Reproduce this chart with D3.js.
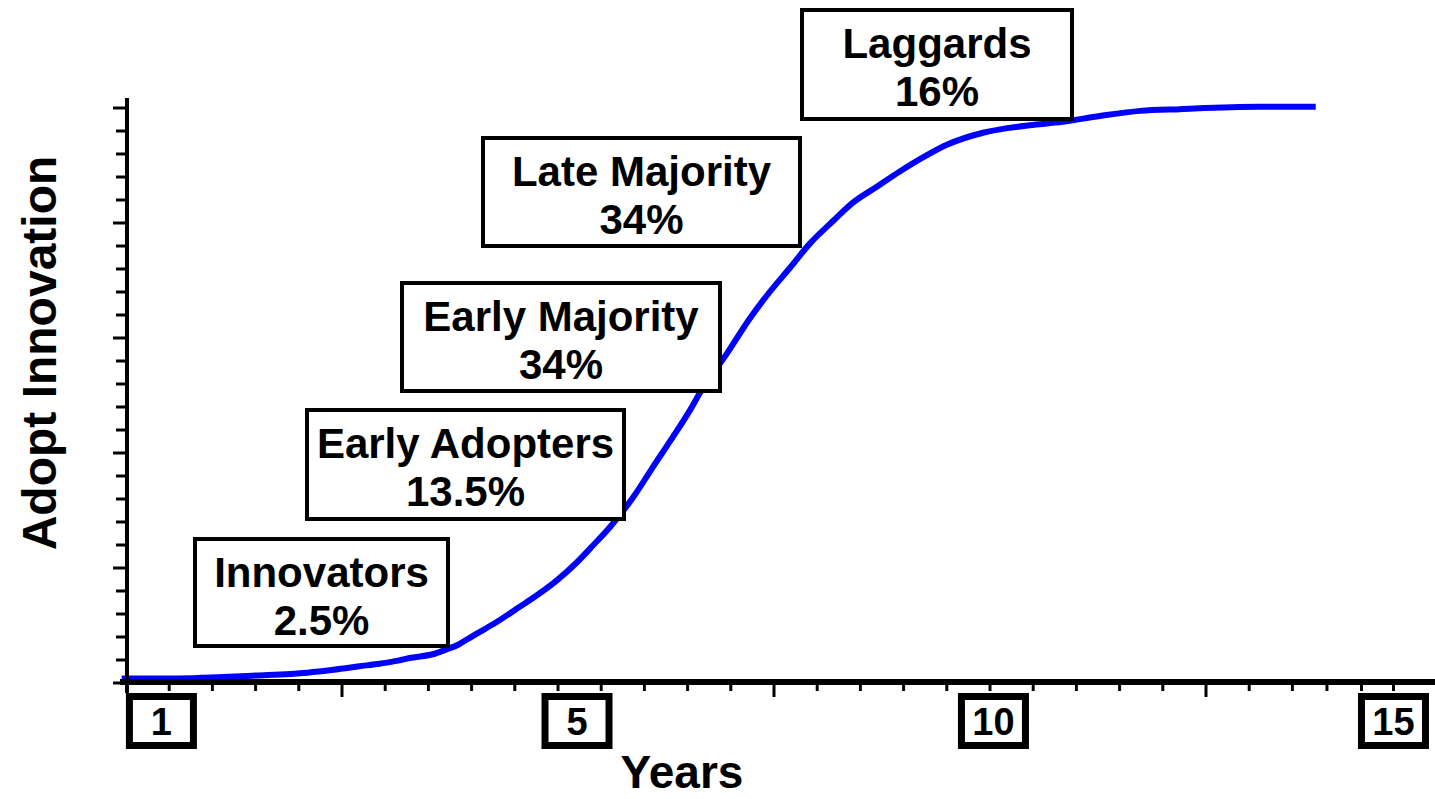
<!DOCTYPE html>
<html>
<head>
<meta charset="utf-8">
<script src="https://cdn.jsdelivr.net/npm/d3@7/dist/d3.min.js"></script>
<style>
  html, body { margin: 0; padding: 0; background: #fff; }
  svg { display: block; font-family: "Liberation Sans", Arial, sans-serif; font-weight: bold; }
</style>
</head>
<body>
<svg id="chart" width="1435" height="799"></svg>
<script>
// ---- data ----
const years = [-0.05, 0.5, 1.5, 2.1, 2.4, 2.7, 2.95, 3.15, 3.3, 3.55, 3.7, 3.85, 3.95, 4.05, 4.29, 4.53, 4.76, 4.99, 5.22, 5.41, 5.6, 5.87, 6.1, 6.33, 6.53, 6.64, 6.96, 7.22, 7.45, 7.69, 7.92, 8.18, 8.41, 8.69, 8.96, 9.27, 9.5, 9.92, 10.2, 10.46, 10.84, 11.27, 11.74, 12.2, 13.1, 13.77];
const adoption = [0.8, 0.8, 1.3, 1.8, 2.3, 2.9, 3.4, 3.9, 4.4, 5.0, 5.8, 6.7, 7.6, 8.5, 10.6, 13.0, 15.3, 17.9, 21.0, 24.0, 27.1, 32.3, 37.6, 42.8, 47.5, 50.4, 57.4, 63.4, 68.0, 72.3, 76.5, 80.3, 83.5, 86.3, 89.0, 91.8, 93.6, 95.7, 96.5, 97.0, 97.6, 98.6, 99.5, 99.8, 100.2, 100.2];

const categories = ["Innovators", "Early Adopters", "Early Majority", "Late Majority", "Laggards"];
const shares = ["2.5%", "13.5%", "34%", "34%", "16%"];

const xTickLabels = ["1", "5", "10", "15"];
const xTickLabelAt = [0.41, 5.22, 10.04, 14.67];
const xMinorTicks = [0.5, 1, 1.5, 2, 3, 3.5, 4, 4.5, 5, 5.5, 6, 6.5, 7, 8, 8.5, 9, 9.5, 10, 10.5, 11, 11.5, 12, 13, 13.5, 13.9, 14.3, 14.67];
const xMajorTicks = [2.5, 7.5, 12.5];
const yMinorTicks = d3.range(4, 100, 4).filter(v => v % 20 !== 0);
const yMajorTicks = [0, 20, 40, 60, 80, 100];

// ---- layout ----
const boxLayout = [
  {x0: 193, y0: 537, x1: 450, y1: 648},
  {x0: 305, y0: 408, x1: 626, y1: 521},
  {x0: 400, y0: 281, x1: 722, y1: 393},
  {x0: 481, y0: 136, x1: 802, y1: 248},
  {x0: 800, y0: 8,   x1: 1074, y1: 121}
];

const svg = d3.select("#chart");
const x = d3.scaleLinear().domain([0, 10]).range([126, 990]);
const y = d3.scaleLinear().domain([0, 100]).range([683, 108]);
const axisY = 682;   // x-axis line
const axisX = 127;   // y-axis line

// curve
const pts = years.map((d, i) => [d, adoption[i]]);
svg.append("path")
  .datum(pts)
  .attr("fill", "none")
  .attr("stroke", "#0000ff")
  .attr("stroke-width", 6)
  .attr("d", d3.line().x(d => x(d[0])).y(d => y(d[1])).curve(d3.curveMonotoneX));

// y axis
svg.append("line").attr("x1", axisX).attr("x2", axisX).attr("y1", 98).attr("y2", 693)
  .attr("stroke", "#000").attr("stroke-width", 4);
svg.selectAll(".ymin").data(yMinorTicks).join("line")
  .attr("x1", 116).attr("x2", axisX).attr("y1", d => y(d)).attr("y2", d => y(d))
  .attr("stroke", "#000").attr("stroke-width", 3);
svg.selectAll(".ymaj").data(yMajorTicks).join("line")
  .attr("x1", 113).attr("x2", axisX).attr("y1", d => y(d)).attr("y2", d => y(d))
  .attr("stroke", "#000").attr("stroke-width", 3);

// x axis
svg.append("line").attr("x1", 120).attr("x2", 1435).attr("y1", axisY).attr("y2", axisY)
  .attr("stroke", "#000").attr("stroke-width", 6);
svg.selectAll(".xmin").data(xMinorTicks).join("line")
  .attr("x1", d => x(d)).attr("x2", d => x(d)).attr("y1", axisY).attr("y2", 691)
  .attr("stroke", "#000").attr("stroke-width", 3);
svg.selectAll(".xmaj").data(xMajorTicks).join("line")
  .attr("x1", d => x(d)).attr("x2", d => x(d)).attr("y1", axisY).attr("y2", 697)
  .attr("stroke", "#000").attr("stroke-width", 3);

// x tick label boxes
const tb = svg.selectAll(".tb").data(xTickLabels).join("g")
  .attr("transform", (d, i) => `translate(${x(xTickLabelAt[i])},693)`);
tb.append("rect").attr("x", -32).attr("y", 3.5).attr("width", 64).attr("height", 49)
  .attr("fill", "#fff").attr("stroke", "#000").attr("stroke-width", 7);
tb.append("text").attr("text-anchor", "middle").attr("x", 0).attr("y", 42)
  .attr("font-size", 38).attr("fill", "#000").text(d => d);

// category boxes
const cb = svg.selectAll(".cb").data(categories).join("g");
cb.append("rect")
  .attr("x", (d, i) => boxLayout[i].x0 + 2)
  .attr("y", (d, i) => boxLayout[i].y0 + 2)
  .attr("width", (d, i) => boxLayout[i].x1 - boxLayout[i].x0 - 4)
  .attr("height", (d, i) => boxLayout[i].y1 - boxLayout[i].y0 - 4)
  .attr("fill", "#fff").attr("stroke", "#000").attr("stroke-width", 4);
cb.append("text").attr("text-anchor", "middle")
  .attr("x", (d, i) => (boxLayout[i].x0 + boxLayout[i].x1) / 2)
  .attr("y", (d, i) => boxLayout[i].y0 + 50)
  .attr("font-size", 42).text(d => d);
cb.append("text").attr("text-anchor", "middle")
  .attr("x", (d, i) => (boxLayout[i].x0 + boxLayout[i].x1) / 2)
  .attr("y", (d, i) => boxLayout[i].y0 + 98)
  .attr("font-size", 42).text((d, i) => shares[i]);

// axis titles
svg.append("text").attr("text-anchor", "middle").attr("x", 682).attr("y", 788)
  .attr("font-size", 46).text("Years");
svg.append("text").attr("text-anchor", "middle")
  .attr("transform", "translate(56,353) rotate(-90)")
  .attr("font-size", 48).text("Adopt Innovation");
</script>
</body>
</html>
